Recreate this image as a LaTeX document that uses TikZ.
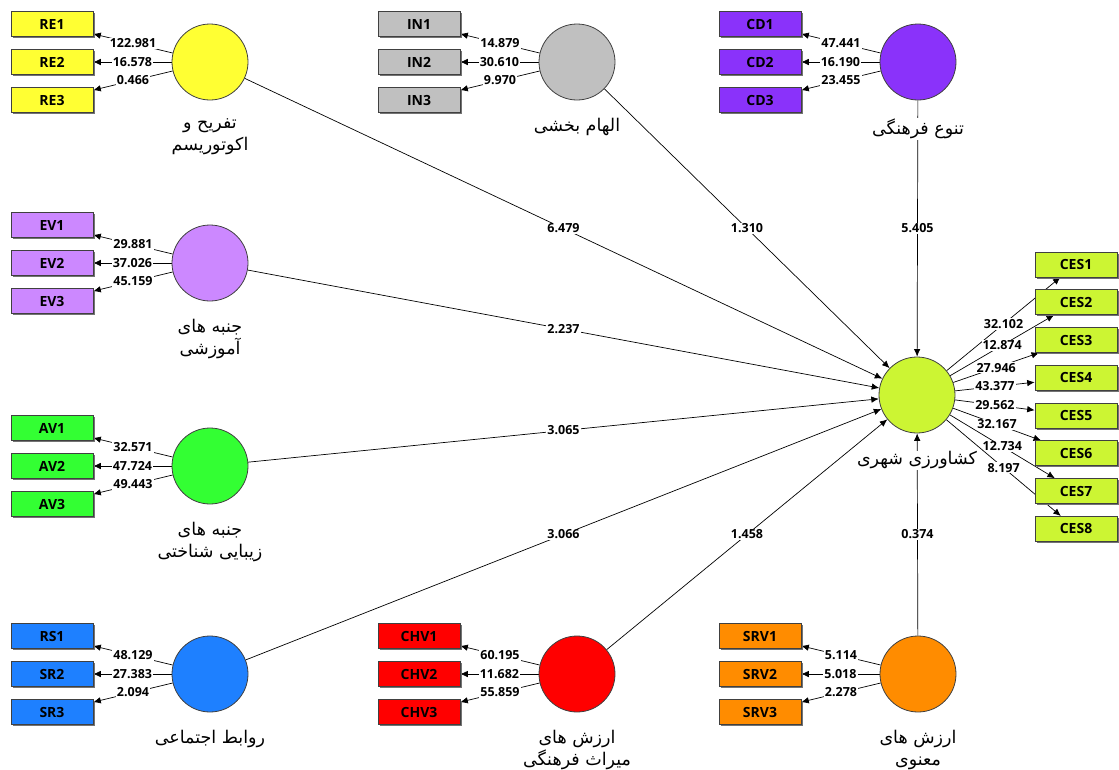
\documentclass[tikz,border=0pt]{standalone}
\usepackage{fontspec}
\usetikzlibrary{arrows.meta}
\usetikzlibrary{shadows}
\usetikzlibrary{positioning}
\setmainfont{Open Sans}
\newfontfamily\fafont[Script=Arabic]{DejaVu Sans}
\TeXXeTstate=1
\definecolor{reColor}{RGB}{255,255,51}
\definecolor{inColor}{RGB}{192,192,192}
\definecolor{cdColor}{RGB}{138,50,250}
\definecolor{evColor}{RGB}{204,136,255}
\definecolor{avColor}{RGB}{51,255,51}
\definecolor{cesColor}{RGB}{204,245,51}
\definecolor{rsColor}{RGB}{30,128,255}
\definecolor{chvColor}{RGB}{255,0,0}
\definecolor{srvColor}{RGB}{255,140,0}
\pgfdeclarelayer{bg}
\pgfdeclarelayer{edges}
\pgfsetlayers{bg,edges,main}

\begin{document}
\begin{tikzpicture}[x = 1pt, y = -1pt]
\tikzstyle{latentStyle} = [shape = circle, minimum size = 76pt, inner sep = 0pt, draw = black!75, line width = 0.8pt]
\tikzstyle{itemStyle} = [shape = rectangle, minimum width = 82pt, minimum height = 25pt, inner sep = 0pt, draw = black!75, line width = 0.6pt, drop shadow = {shadow xshift = 1.6pt, shadow yshift = -1.6pt, fill = black!55, opacity = 1}, font = \bfseries\fontsize{14}{16}\selectfont]
\tikzstyle{nameStyle} = [align = center, fill = white, inner sep = 1pt, font = \fafont\fontsize{17.5}{22}\selectfont]
\tikzstyle{weightStyle} = [fill = white, inner sep = 1pt, font = \bfseries\fontsize{12.5}{14}\selectfont]
\tikzstyle{pathStyle} = [line width = 0.7pt, -{Latex[length = 7.5pt, width = 6.5pt]}]
\begin{pgfonlayer}{bg}
\fill[white] (0, 0) rectangle (1119, 769);
\end{pgfonlayer}
\useasboundingbox (0, 0) rectangle (1119, 769);
% latent variables
\node[latentStyle, fill = reColor] (RE) at (210, 62) {};
\node[latentStyle, fill = inColor] (IN) at (577, 62) {};
\node[latentStyle, fill = cdColor] (CD) at (918, 62) {};
\node[latentStyle, fill = evColor] (EV) at (210, 263) {};
\node[latentStyle, fill = avColor] (AV) at (210, 466) {};
\node[latentStyle, fill = cesColor] (CES) at (917, 395) {};
\node[latentStyle, fill = rsColor] (RS) at (210, 674) {};
\node[latentStyle, fill = chvColor] (CHV) at (577, 674) {};
\node[latentStyle, fill = srvColor] (SRV) at (918, 674) {};
% names
\node[nameStyle, below = 17pt of RE] (REname) {\beginR تفریح و\endR\\\beginR اکوتوریسم\endR};
\node[nameStyle, below = 17pt of IN] (INname) {\beginR الهام بخشی\endR};
\node[nameStyle, below = 17pt of CD] (CDname) {\beginR تنوع فرهنگی\endR};
\node[nameStyle, below = 17pt of EV] (EVname) {\beginR جنبه های\endR\\\beginR آموزشی\endR};
\node[nameStyle, below = 17pt of AV] (AVname) {\beginR جنبه های\endR\\\beginR زیبایی شناختی\endR};
\node[nameStyle, below = 17pt of CES] (CESname) {\beginR کشاورزی شهری\endR};
\node[nameStyle, below = 17pt of RS] (RSname) {\beginR روابط اجتماعی\endR};
\node[nameStyle, below = 17pt of CHV] (CHVname) {\beginR ارزش های\endR\\\beginR میراث فرهنگی\endR};
\node[nameStyle, below = 17pt of SRV] (SRVname) {\beginR ارزش های\endR\\\beginR معنوی\endR};
% indicators
\node[itemStyle, fill = reColor] (RE1) at (52, 24) {RE1};
\node[itemStyle, fill = reColor] (RE2) at (52, 62) {RE2};
\node[itemStyle, fill = reColor] (RE3) at (52, 100) {RE3};
\node[itemStyle, fill = inColor] (IN1) at (419, 24) {IN1};
\node[itemStyle, fill = inColor] (IN2) at (419, 62) {IN2};
\node[itemStyle, fill = inColor] (IN3) at (419, 100) {IN3};
\node[itemStyle, fill = cdColor] (CD1) at (760, 24) {CD1};
\node[itemStyle, fill = cdColor] (CD2) at (760, 62) {CD2};
\node[itemStyle, fill = cdColor] (CD3) at (760, 100) {CD3};
\node[itemStyle, fill = evColor] (EV1) at (52, 225) {EV1};
\node[itemStyle, fill = evColor] (EV2) at (52, 263) {EV2};
\node[itemStyle, fill = evColor] (EV3) at (52, 301) {EV3};
\node[itemStyle, fill = avColor] (AV1) at (52, 428) {AV1};
\node[itemStyle, fill = avColor] (AV2) at (52, 466) {AV2};
\node[itemStyle, fill = avColor] (AV3) at (52, 504) {AV3};
\node[itemStyle, fill = rsColor] (RS1) at (52, 636) {RS1};
\node[itemStyle, fill = rsColor] (SR2) at (52, 674) {SR2};
\node[itemStyle, fill = rsColor] (SR3) at (52, 712) {SR3};
\node[itemStyle, fill = chvColor] (CHV1) at (419, 636) {CHV1};
\node[itemStyle, fill = chvColor] (CHV2) at (419, 674) {CHV2};
\node[itemStyle, fill = chvColor] (CHV3) at (419, 712) {CHV3};
\node[itemStyle, fill = srvColor] (SRV1) at (760, 636) {SRV1};
\node[itemStyle, fill = srvColor] (SRV2) at (760, 674) {SRV2};
\node[itemStyle, fill = srvColor] (SRV3) at (760, 712) {SRV3};
\node[itemStyle, fill = cesColor] (CES1) at (1076, 264.5) {CES1};
\node[itemStyle, fill = cesColor] (CES2) at (1076, 302.25) {CES2};
\node[itemStyle, fill = cesColor] (CES3) at (1076, 340) {CES3};
\node[itemStyle, fill = cesColor] (CES4) at (1076, 377.75) {CES4};
\node[itemStyle, fill = cesColor] (CES5) at (1076, 415.5) {CES5};
\node[itemStyle, fill = cesColor] (CES6) at (1076, 453.25) {CES6};
\node[itemStyle, fill = cesColor] (CES7) at (1076, 491) {CES7};
\node[itemStyle, fill = cesColor] (CES8) at (1076, 528.75) {CES8};
\begin{pgfonlayer}{edges}
% structural paths
\draw[pathStyle] (RE) -- node[weightStyle] {6.479} (CES);
\draw[pathStyle] (IN) -- node[weightStyle] {1.310} (CES);
\draw[pathStyle] (CD) -- node[weightStyle] {5.405} (CES);
\draw[pathStyle] (EV) -- node[weightStyle] {2.237} (CES);
\draw[pathStyle] (AV) -- node[weightStyle] {3.065} (CES);
\draw[pathStyle] (RS) -- node[weightStyle] {3.066} (CES);
\draw[pathStyle] (CHV) -- node[weightStyle] {1.458} (CES);
\draw[pathStyle] (SRV) -- node[weightStyle] {0.374} (CES);
% outer loadings
\draw[pathStyle] (RE) -- node[weightStyle] {122.981} (RE1);
\draw[pathStyle] (RE) -- node[weightStyle] {16.578} (RE2);
\draw[pathStyle] (RE) -- node[weightStyle] {0.466} (RE3);
\draw[pathStyle] (IN) -- node[weightStyle] {14.879} (IN1);
\draw[pathStyle] (IN) -- node[weightStyle] {30.610} (IN2);
\draw[pathStyle] (IN) -- node[weightStyle] {9.970} (IN3);
\draw[pathStyle] (CD) -- node[weightStyle] {47.441} (CD1);
\draw[pathStyle] (CD) -- node[weightStyle] {16.190} (CD2);
\draw[pathStyle] (CD) -- node[weightStyle] {23.455} (CD3);
\draw[pathStyle] (EV) -- node[weightStyle] {29.881} (EV1);
\draw[pathStyle] (EV) -- node[weightStyle] {37.026} (EV2);
\draw[pathStyle] (EV) -- node[weightStyle] {45.159} (EV3);
\draw[pathStyle] (AV) -- node[weightStyle] {32.571} (AV1);
\draw[pathStyle] (AV) -- node[weightStyle] {47.724} (AV2);
\draw[pathStyle] (AV) -- node[weightStyle] {49.443} (AV3);
\draw[pathStyle] (RS) -- node[weightStyle] {48.129} (RS1);
\draw[pathStyle] (RS) -- node[weightStyle] {27.383} (SR2);
\draw[pathStyle] (RS) -- node[weightStyle] {2.094} (SR3);
\draw[pathStyle] (CHV) -- node[weightStyle] {60.195} (CHV1);
\draw[pathStyle] (CHV) -- node[weightStyle] {11.682} (CHV2);
\draw[pathStyle] (CHV) -- node[weightStyle] {55.859} (CHV3);
\draw[pathStyle] (SRV) -- node[weightStyle] {5.114} (SRV1);
\draw[pathStyle] (SRV) -- node[weightStyle] {5.018} (SRV2);
\draw[pathStyle] (SRV) -- node[weightStyle] {2.278} (SRV3);
\draw[pathStyle] (CES) -- node[weightStyle] {32.102} (CES1);
\draw[pathStyle] (CES) -- node[weightStyle] {12.874} (CES2);
\draw[pathStyle] (CES) -- node[weightStyle] {27.946} (CES3);
\draw[pathStyle] (CES) -- node[weightStyle] {43.377} (CES4);
\draw[pathStyle] (CES) -- node[weightStyle] {29.562} (CES5);
\draw[pathStyle] (CES) -- node[weightStyle] {32.167} (CES6);
\draw[pathStyle] (CES) -- node[weightStyle] {12.734} (CES7);
\draw[pathStyle] (CES) -- node[weightStyle] {8.197} (CES8);
\end{pgfonlayer}
\end{tikzpicture}
\end{document}
